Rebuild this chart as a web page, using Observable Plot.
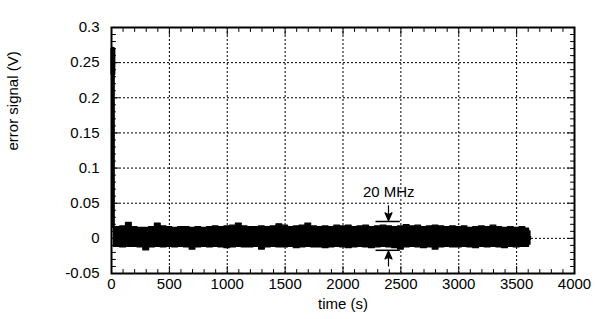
<!DOCTYPE html>
<html>
<head>
<meta charset="utf-8">
<script src="https://cdn.jsdelivr.net/npm/d3@7"></script>
<script src="https://cdn.jsdelivr.net/npm/@observablehq/plot@0.6"></script>
<style>
  html, body { margin: 0; padding: 0; background: #fff; }
  #chart { width: 595px; height: 319px; }
</style>
</head>
<body>
<div id="chart"></div>
<script>
// ---- data ----
const xLabel = "time (s)";
const yLabel = "error signal (V)";
const xTicks = [0, 500, 1000, 1500, 2000, 2500, 3000, 3500, 4000];
const xTickLabels = ["0", "500", "1000", "1500", "2000", "2500", "3000", "3500", "4000"];
const yTicks = [-0.05, 0, 0.05, 0.1, 0.15, 0.2, 0.25, 0.3];
const yTickLabels = ["-0.05", "0", "0.05", "0.1", "0.15", "0.2", "0.25", "0.3"];

// envelope of the noisy error signal (upper / lower edge), sampled along time
const bandTime = [20, 50, 100, 150, 200, 250, 300, 350, 400, 450, 500, 550, 600, 650, 700, 750, 800, 850, 900, 950,
  1000, 1050, 1100, 1150, 1200, 1250, 1300, 1350, 1400, 1450, 1500, 1550, 1600, 1650, 1700, 1750, 1800, 1850, 1900, 1950,
  2000, 2050, 2100, 2150, 2200, 2250, 2300, 2350, 2400, 2450, 2500, 2550, 2600, 2650, 2700, 2750, 2800, 2850, 2900, 2950,
  3000, 3050, 3100, 3150, 3200, 3250, 3300, 3350, 3400, 3450, 3500, 3550, 3600, 3615, 3625];
const bandHigh = [0.016, 0.016, 0.017, 0.022, 0.016, 0.015, 0.015, 0.016, 0.021, 0.017, 0.016, 0.015, 0.016, 0.016, 0.015, 0.016, 0.015, 0.016, 0.017, 0.016,
  0.017, 0.018, 0.021, 0.017, 0.016, 0.016, 0.017, 0.016, 0.017, 0.020, 0.018, 0.016, 0.017, 0.018, 0.021, 0.017, 0.016, 0.017, 0.016, 0.018,
  0.017, 0.018, 0.016, 0.017, 0.018, 0.016, 0.017, 0.018, 0.017, 0.016, 0.017, 0.019, 0.017, 0.018, 0.016, 0.017, 0.018, 0.017, 0.016, 0.017,
  0.016, 0.017, 0.015, 0.016, 0.017, 0.016, 0.018, 0.016, 0.015, 0.016, 0.015, 0.016, 0.014, 0.010, 0.002];
const bandLow = [-0.012, -0.012, -0.013, -0.012, -0.012, -0.013, -0.017, -0.013, -0.012, -0.013, -0.012, -0.013, -0.012, -0.013, -0.016, -0.013, -0.012, -0.013, -0.012, -0.013,
  -0.014, -0.013, -0.012, -0.013, -0.013, -0.012, -0.016, -0.013, -0.012, -0.013, -0.013, -0.012, -0.014, -0.013, -0.012, -0.013, -0.013, -0.014, -0.013, -0.012,
  -0.013, -0.014, -0.013, -0.012, -0.013, -0.014, -0.013, -0.012, -0.013, -0.014, -0.016, -0.013, -0.012, -0.013, -0.014, -0.013, -0.016, -0.013, -0.012, -0.013,
  -0.013, -0.012, -0.013, -0.014, -0.012, -0.013, -0.012, -0.013, -0.014, -0.012, -0.013, -0.012, -0.012, -0.009, -0.002];

// initial spike at switch-on
const spikeTopTime = [12, 12];
const spikeTopValue = [0.269, 0.235];
const spikeTime = [16, 16];
const spikeValue = [0.235, 0.016];

// "20 MHz" annotation
const annText = "20 MHz";
const annTextTime = 2395;
const annTextValue = 0.066;
const annBarTime = [2285, 2495];
const annBarValue = [0.024, -0.017];
const annArrowTime = 2393;
const annArrowTip = [0.025, -0.018];
const annArrowDir = [180, 0];

// ---- derived tables ----
const band = bandTime.map((t, i) => ({t, hi: bandHigh[i], lo: bandLow[i]}));
const spikeTop = spikeTopTime.map((t, i) => ({t, v: spikeTopValue[i]}));
const spike = spikeTime.map((t, i) => ({t, v: spikeValue[i]}));
const bars = annBarValue.map(v => ({x1: annBarTime[0], x2: annBarTime[1], y: v}));
const arrows = annArrowTip.map((v, i) => ({x: annArrowTime, y: v, r: annArrowDir[i]}));

const xMinor = d3.range(100, 4000, 100).filter(v => v % 500 !== 0);
const yMinor = d3.range(-4, 30).map(i => +(i * 0.01).toFixed(2)).filter(v => Math.abs(Math.round(v * 100) % 5) !== 0);
const xMajorInner = xTicks.slice(1, -1);
const yMajorInner = yTicks.slice(1, -1);

const tickShape = {draw(context, l) { context.moveTo(0, 0); context.lineTo(0, -l); }};
const ticks = (data, axis, pos, rotate, len) => Plot.vector(data, {
  x: axis === "x" ? d => d : () => pos,
  y: axis === "y" ? d => d : () => pos,
  length: len, rotate, anchor: "start", shape: tickShape, stroke: "black", strokeWidth: 1
});
// arrow: stem from the tail, filled head at the tip
const arrowShape = {draw(context, l) {
  context.moveTo(0, 0); context.lineTo(0, -l);
  context.moveTo(0, -l); context.lineTo(-3.5, -l + 8); context.lineTo(0, -l + 6); context.lineTo(3.5, -l + 8); context.closePath();
}};

const chart = Plot.plot({
  width: 595,
  height: 319,
  marginLeft: 111,
  marginRight: 21,
  marginTop: 27,
  marginBottom: 46,
  style: {fontFamily: "'Liberation Sans', Arial, sans-serif", fontSize: "15px", background: "white", color: "black"},
  x: {domain: [0, 4000]},
  y: {domain: [-0.05, 0.3]},
  marks: [
    // dotted grid
    Plot.ruleX(xMajorInner, {x: d => d, stroke: "black", strokeWidth: 1, strokeDasharray: "2,2"}),
    Plot.ruleY(yMajorInner, {y: d => d, stroke: "black", strokeWidth: 1, strokeDasharray: "2,2"}),
    // signal
    Plot.areaY(band, {x: "t", y1: "lo", y2: "hi", curve: "step", fill: "black", stroke: "black", strokeWidth: 1.2}),
    Plot.line(spikeTop, {x: "t", y: "v", stroke: "black", strokeWidth: 5}),
    Plot.line(spike, {x: "t", y: "v", stroke: "black", strokeWidth: 3}),
    // annotation
    Plot.ruleY(bars, {x1: "x1", x2: "x2", y: "y", stroke: "black", strokeWidth: 1.5}),
    Plot.vector(arrows, {x: "x", y: "y", rotate: "r", length: 15, anchor: "end", shape: arrowShape, stroke: "black", fill: "black", strokeWidth: 1.2}),
    Plot.text([annText], {x: annTextTime, y: annTextValue, text: d => d, fill: "black", fontSize: 15}),
    // inward ticks
    ticks(xMinor, "x", -0.05, 0, 4), ticks(xMinor, "x", 0.3, 180, 4),
    ticks(xMajorInner, "x", -0.05, 0, 7), ticks(xMajorInner, "x", 0.3, 180, 7),
    ticks(yMinor, "y", 0, 90, 4), ticks(yMinor, "y", 4000, 270, 4),
    ticks(yMajorInner, "y", 0, 90, 7), ticks(yMajorInner, "y", 4000, 270, 7),
    // frame
    Plot.frame({stroke: "black", strokeWidth: 2}),
    // tick labels
    Plot.axisX(xTicks, {tickSize: 0, tickPadding: 5, tickFormat: (d, i) => xTickLabels[i], fill: "black"}),
    Plot.axisY(yTicks, {tickSize: 0, tickPadding: 12, tickFormat: (d, i) => yTickLabels[i], fill: "black"}),
    // axis titles
    Plot.text([xLabel], {frameAnchor: "bottom", dy: 35, text: d => d, fill: "black", fontSize: 15}),
    Plot.text([yLabel], {frameAnchor: "left", dx: -98, rotate: -90, text: d => d, fill: "black", fontSize: 15})
  ]
});
document.getElementById("chart").appendChild(chart);
</script>
</body>
</html>
